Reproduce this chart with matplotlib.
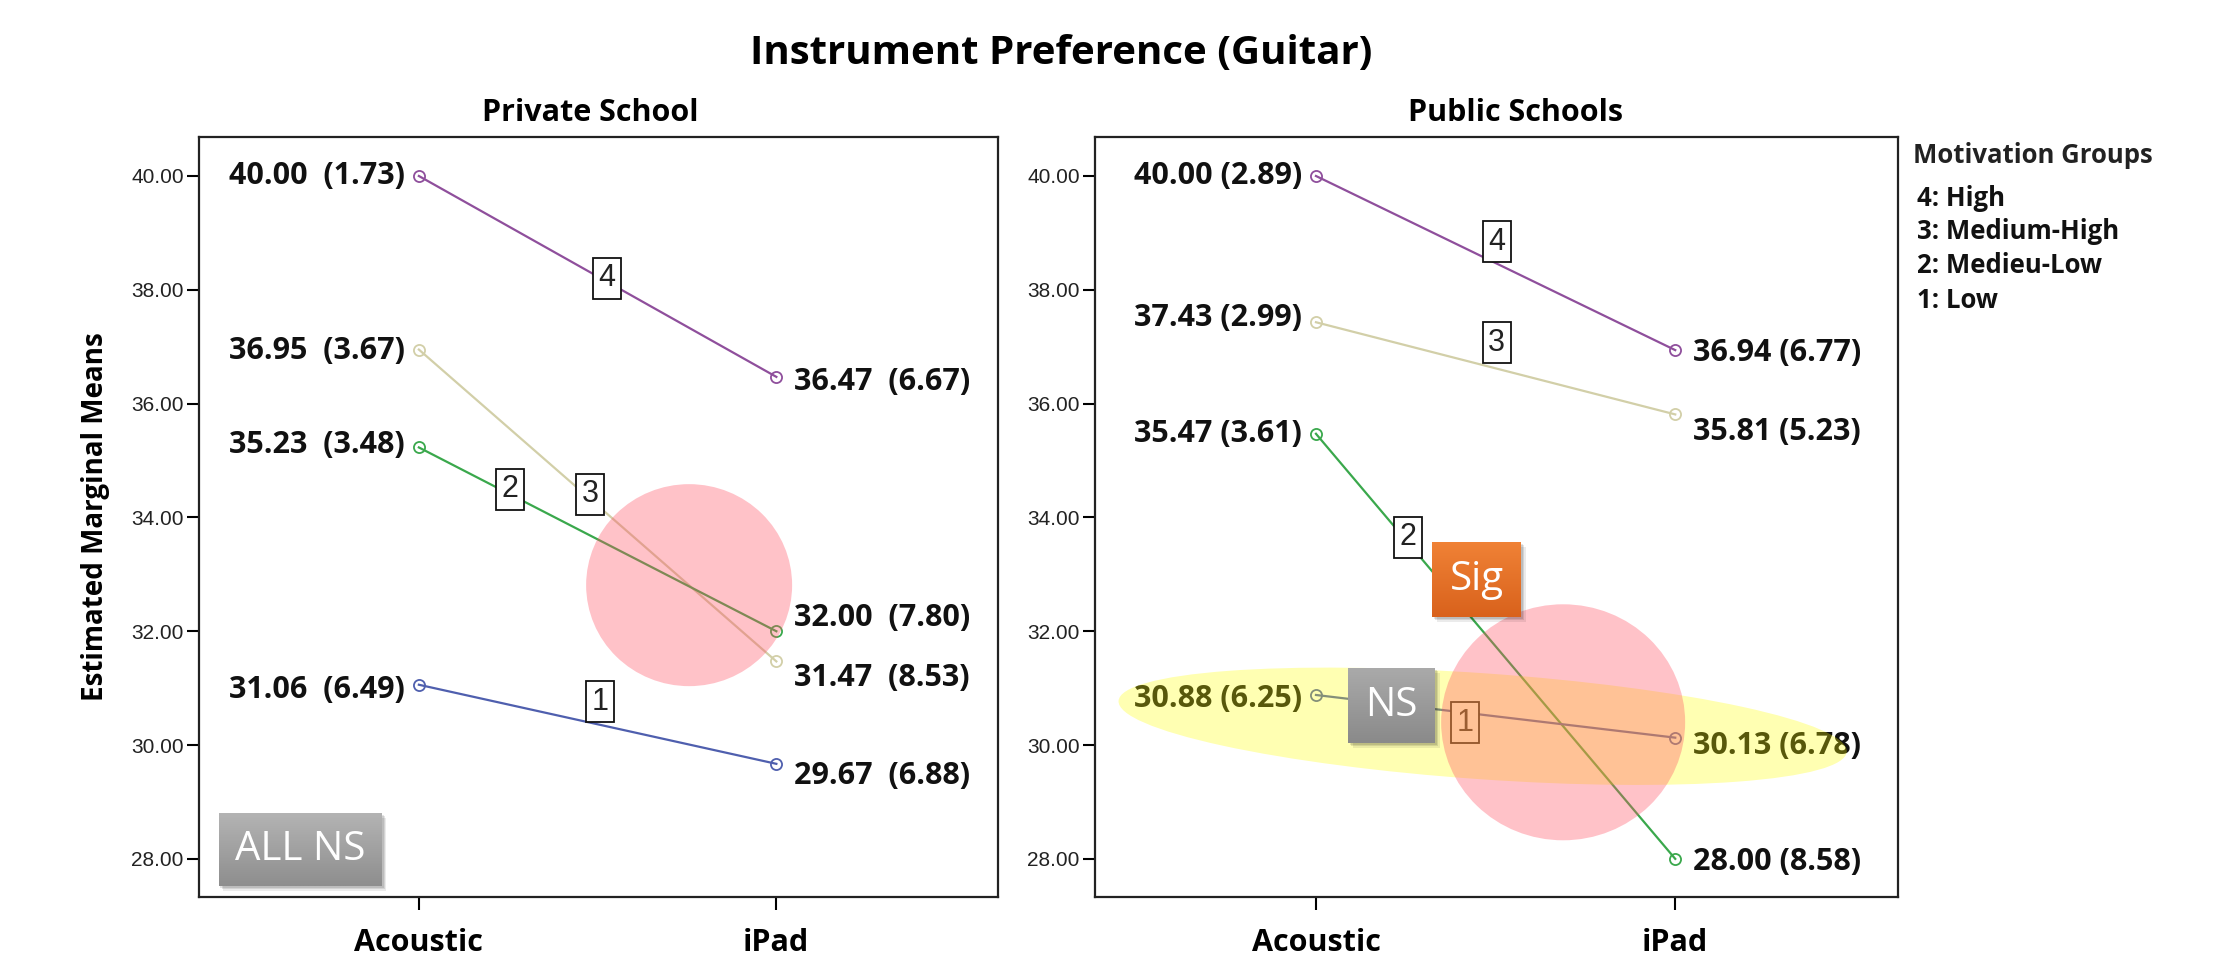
import numpy as np
import matplotlib
matplotlib.use("Agg")
import matplotlib.pyplot as plt
from matplotlib.patches import Ellipse, Rectangle
from matplotlib.colors import LinearSegmentedColormap
from matplotlib.transforms import ScaledTranslation

# ---- data -------------------------------------------------------------
conditions = ["Acoustic", "iPad"]
groups = ["4", "3", "2", "1"]
group_names = ["4: High", "3: Medium-High", "2: Medieu-Low", "1: Low"]

private_means = [[40.00, 36.47], [36.95, 31.47], [35.23, 32.00], [31.06, 29.67]]
private_sds = [[1.73, 6.67], [3.67, 8.53], [3.48, 7.80], [6.49, 6.88]]
public_means = [[40.00, 36.94], [37.43, 35.81], [35.47, 28.00], [30.88, 30.13]]
public_sds = [[2.89, 6.77], [2.99, 5.23], [3.61, 8.58], [6.25, 6.78]]

y_ticks = [28, 30, 32, 34, 36, 38, 40]

# ---- style ------------------------------------------------------------
W, H, DPI = 2215, 972, 100
colors = ["#8f4f9c", "#d2cfa8", "#3aa84c", "#4f5fae"]
BOLD = "Open Sans"
TICKFONT = "Liberation Sans"

fig = plt.figure(figsize=(W / DPI, H / DPI), dpi=DPI)

def px_rect(x0, x1, ytop, ybot):
    return [x0 / W, 1 - ybot / H, (x1 - x0) / W, (ybot - ytop) / H]

ax_l = fig.add_axes(px_rect(199, 998, 137, 897))
ax_r = fig.add_axes(px_rect(1095, 1898, 137, 897))

# label nudges in pixels (positive = downwards) and line-tag placement
panels = [
    dict(ax=ax_l, means=private_means, sds=private_sds, gap="  ",
         left_dy=[0, 1, -2, 5], right_dy=[5, 17, -13, 12],
         tags=[(0.525, 3), (0.48, 5), (0.256, 5), (0.506, 23)]),
    dict(ax=ax_r, means=public_means, sds=public_sds, gap=" ",
         left_dy=[0, -4, 0, 4], right_dy=[3, 18, 3, 8],
         tags=[(0.503, 22), (0.503, 26), (0.257, 6), (0.414, -10)]),
]

xpos = np.arange(len(conditions))

for p in panels:
    ax = p["ax"]
    for i, g in enumerate(groups):
        m = p["means"][i]
        s = p["sds"][i]
        ax.plot(xpos, m, color=colors[i], lw=1.6, marker="o", ms=8,
                mfc="none", mec=colors[i], mew=1.3, zorder=3)
        ax.annotate(f"{m[0]:.2f}{p['gap']}({s[0]:.2f})", xy=(xpos[0], m[0]),
                    xytext=(-14, -p["left_dy"][i]), textcoords="offset pixels",
                    ha="right", va="center", fontsize=22, fontweight="bold",
                    family=BOLD, color="#111111", zorder=4)
        ax.annotate(f"{m[1]:.2f}{p['gap']}({s[1]:.2f})", xy=(xpos[1], m[1]),
                    xytext=(18, -p["right_dy"][i]), textcoords="offset pixels",
                    ha="left", va="center", fontsize=22, fontweight="bold",
                    family=BOLD, color="#111111", zorder=4)
        t, off = p["tags"][i]
        yt = m[0] + (m[1] - m[0]) * t
        ax.annotate(g, xy=(t, yt), xytext=(0, off), textcoords="offset pixels",
                    ha="center", va="center", fontsize=22, family=TICKFONT,
                    color="#222222", zorder=5,
                    bbox=dict(boxstyle="square,pad=0.18", fc="white",
                              ec="#111111", lw=1.3))

    ax.set_xlim(-0.615, 1.62)
    ax.set_ylim(27.33, 40.685)
    ax.set_yticks(y_ticks)
    ax.set_yticklabels([f"{v:.2f}" for v in y_ticks], fontsize=15,
                       family=TICKFONT, color="#222222")
    ax.set_xticks(xpos)
    ax.set_xticklabels(conditions, fontsize=22, fontweight="bold", family=BOLD)
    ax.tick_params(axis="y", direction="out", length=9, width=1.5, pad=2)
    ax.tick_params(axis="x", direction="out", length=9, width=1.5, pad=13)
    for sp in ax.spines.values():
        sp.set_linewidth(1.6)
        sp.set_color("#222222")

# ---- highlight shapes (pixel-sized, anchored at data points) ---------
def blob(ax, xd, yd, w_in, h_in, angle, color, alpha, z):
    tr = fig.dpi_scale_trans + ScaledTranslation(xd, yd, ax.transData)
    e = Ellipse((0, 0), w_in, h_in, angle=angle, transform=tr,
                fc=color, ec="none", alpha=alpha, zorder=z)
    ax.add_patch(e)

PINK = "#ff5064"
YELLOW = "#ffff00"
blob(ax_l, 0.756, 32.81, 2.06, 2.02, 0, PINK, 0.35, 6)
blob(ax_r, 0.464, 30.33, 7.30, 1.06, -4, YELLOW, 0.30, 6)
blob(ax_r, 0.688, 30.40, 2.44, 2.36, 0, PINK, 0.35, 7)

# ---- titles and legend text ------------------------------------------
fig.text(1061 / W, 1 - 54 / H, "Instrument Preference (Guitar)", ha="center",
         va="center", fontsize=29, fontweight="bold", family=BOLD)
fig.text(590 / W, 1 - 113 / H, "Private School", ha="center", va="center",
         fontsize=22, fontweight="bold", family=BOLD)
fig.text(1516 / W, 1 - 113 / H, "Public Schools", ha="center", va="center",
         fontsize=22, fontweight="bold", family=BOLD)
fig.text(96 / W, 1 - 517 / H, "Estimated Marginal Means", rotation=90,
         ha="center", va="center", fontsize=20, fontweight="bold", family=BOLD)

fig.text(1913 / W, 1 - 163 / H, "Motivation Groups", ha="left", va="baseline",
         fontsize=18.5, fontweight="bold", family=BOLD, color="#222222")
for k, (name, yb) in enumerate(zip(group_names, [206, 239, 273, 308])):
    fig.text(1917 / W, 1 - yb / H, name, ha="left", va="baseline",
             fontsize=18.5, fontweight="bold", family=BOLD, color="#111111")

# ---- significance badges ----------------------------------------------
def badge(x0, x1, ytop, ybot, text, top, bottom):
    rect = px_rect(x0, x1, ytop, ybot)
    for k, a in enumerate([0.10, 0.10, 0.08]):
        d = (k + 1) * 1.5
        fig.patches.append(Rectangle((rect[0] + d / W, rect[1] - d / H),
                                     rect[2], rect[3], transform=fig.transFigure,
                                     fc="black", ec="none", alpha=a, zorder=5))
    bax = fig.add_axes(rect, zorder=6)
    cmap = LinearSegmentedColormap.from_list("grad", [top, bottom])
    bax.imshow(np.linspace(0, 1, 64)[:, None], aspect="auto", cmap=cmap,
               extent=[0, 1, 0, 1])
    bax.axis("off")
    bax.text(0.5, 0.5, text, ha="center", va="center", color="white",
             fontsize=29, family="Open Sans", transform=bax.transAxes)

badge(219, 382, 813, 886, "ALL NS", "#b4b4b4", "#8e8e8e")
badge(1348, 1435, 668, 743, "NS", "#aaaaaa", "#8a8a8a")
badge(1432, 1521, 542, 617, "Sig", "#f08236", "#d9621c")

fig.savefig("out.png", dpi=DPI)
